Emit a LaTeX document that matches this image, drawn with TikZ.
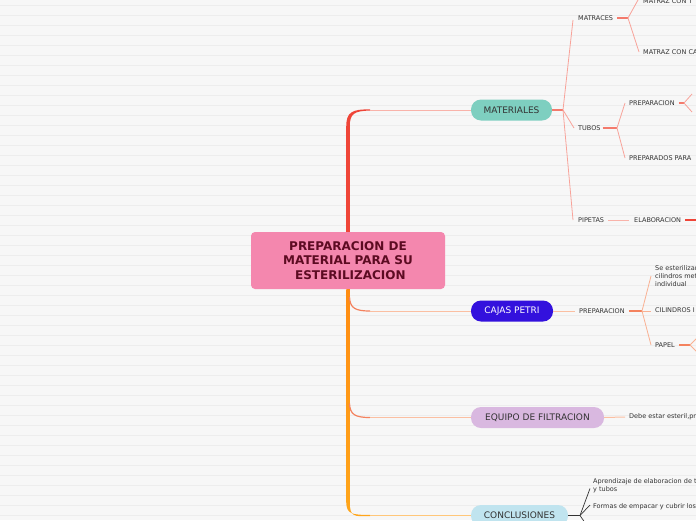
\documentclass[tikz,border=0pt]{standalone}
\usepackage{fontspec}
\setmainfont{DejaVu Sans}
\usetikzlibrary{calc}
\definecolor{bg}{HTML}{F7F7F7}
\definecolor{gridc}{HTML}{EDEDED}
\definecolor{rootfill}{HTML}{F487AE}
\definecolor{roottext}{HTML}{5C0B22}
\definecolor{trunkred}{HTML}{EF4538}
\definecolor{trunkorange}{HTML}{FF8C12}
\definecolor{trunkgold}{HTML}{FFA51A}
\definecolor{matfill}{HTML}{7ECFC0}
\definecolor{cajfill}{HTML}{3311DD}
\definecolor{eqfill}{HTML}{D9B8E0}
\definecolor{confill}{HTML}{C0E4EF}
\definecolor{txt}{HTML}{333333}
\definecolor{fanred}{HTML}{F8A39A}
\definecolor{stubred}{HTML}{F47A6C}
\definecolor{fanor}{HTML}{F9B193}
\definecolor{stubor}{HTML}{F4825E}
\definecolor{lightred}{HTML}{F9B3AA}
\definecolor{lightor}{HTML}{FBBFA2}
\definecolor{lightgold}{HTML}{FFC77A}
\begin{document}
\begin{tikzpicture}[x=1pt,y=-1pt,
  root/.style={fill=rootfill, rounded corners=4pt, minimum width=194pt, minimum height=57pt,
    inner sep=0pt, align=center, text=roottext, font=\bfseries\fontsize{12}{14.5}\selectfont},
  topic/.style={rounded corners=10pt, minimum height=21pt, inner sep=0pt,
    font=\fontsize{9}{10}\selectfont},
  leaf/.style={anchor=west, inner sep=0pt, align=left, text=txt,
    font=\fontsize{6.5}{8}\selectfont},
  fanA/.style={draw=fanred, line width=0.8pt},
  stubA/.style={draw=stubred, line width=1.3pt},
  fanB/.style={draw=fanor, line width=0.8pt},
  stubB/.style={draw=stubor, line width=1.3pt},
  fanC/.style={draw=txt, line width=0.7pt},
  stubC/.style={draw=txt, line width=1.3pt}]
\useasboundingbox (0,0) rectangle (696,520);
\clip (0,0) rectangle (696,520);
\fill[bg] (0,0) rectangle (696,520);
\foreach \k in {0,...,51} \draw[gridc, line width=0.6pt] (0,5+10*\k) -- (696,5+10*\k);

% nodes
\node[root] (root) at (348,260.5) {PREPARACION DE\\MATERIAL PARA SU\\\hspace*{0.4em}ESTERILIZACION};
\node[topic, fill=matfill, minimum width=81pt, text=txt] (mat) at (511.5,110) {MATERIALES};
\node[topic, fill=cajfill, minimum width=82pt, text=white] (caj) at (512,311) {CAJAS PETRI};
\node[topic, fill=eqfill, minimum width=133pt, text=txt] (eq) at (537.5,417.5) {EQUIPO DE FILTRACION};
\node[topic, fill=confill, minimum width=97pt, text=txt] (con) at (519.5,515.5) {CONCLUSIONES};

\node[leaf] (matr) at (578,18) {MATRACES};
\node[leaf] (mtt) at (643,1) {MATRAZ CON T};
\node[leaf] (mtc) at (643,52) {MATRAZ CON CA};
\node[leaf] (tub) at (578,128) {TUBOS};
\node[leaf] (prepa) at (629,103) {PREPARACION};
\node[leaf] (prepados) at (629,158) {PREPARADOS PARA};
\node[leaf] (pip) at (578,220) {PIPETAS};
\node[leaf] (elab) at (634,220) {ELABORACION};
\node[leaf] (prepb) at (579,311) {PREPARACION};
\node[leaf] (seest) at (655,276) {Se esterilizan\\cilindros met\\individual};
\node[leaf] (cil) at (655,310) {CILINDROS I};
\node[leaf] (pap) at (655,345) {PAPEL};
\node[leaf] (debe) at (629,417) {Debe estar esteril,pr};
\node[leaf] (apr) at (593,485.5) {Aprendizaje de elaboracion de t\\y tubos};
\node[leaf] (form) at (593,507) {Formas de empacar y cubrir los};

% trunk coordinates
\coordinate (tr1) at (348,126);
\coordinate (h1) at (370,110);
\coordinate (tr2) at (348,502);
\coordinate (h4) at (370,515.5);
\coordinate (h2) at (370,311);
\coordinate (h3) at (370,417.5);

% red trunk to MATERIALES
\draw[trunkred, line width=3.5pt] (root.north) -- (tr1);
\fill[trunkred] (346.25,126.5) .. controls (346.25,112) and (352,109.2) .. (370,109.4)
  -- (370,110.6) .. controls (354,110.8) and (349.75,114) .. (349.75,126.5) -- cycle;
\draw[lightred, line width=1pt] (h1) -- (mat.west);

% orange trunk
\shade[top color=trunkorange, bottom color=trunkgold] (346.25,289) rectangle (349.75,502.5);
\fill[trunkgold] (346.25,502) .. controls (346.25,514) and (352,515) .. (370,514.9)
  -- (370,516.1) .. controls (354,516.5) and (349.75,517) .. (349.75,502) -- cycle;
\draw[lightgold, line width=1pt] (h4) -- (con.west);
% branches to CAJAS and EQUIPO
\draw[stubor, line width=1.2pt] (349.5,297) .. controls (350,308) and (355,311) .. (h2);
\draw[lightor, line width=1pt] (h2) -- (caj.west);
\draw[stubor, line width=1.2pt] (349.5,403.5) .. controls (350,414.5) and (355,417.5) .. (h3);
\draw[lightor, line width=1pt] (h3) -- (eq.west);

% MATERIALES subtree
\coordinate (jm) at (563,110);
\draw[stubA] (mat.east) -- (jm);
\draw[fanA] (jm) -- (573,20);
\draw[fanA] (jm) -- ([xshift=-4pt]tub.west);
\draw[fanA] (jm) -- ([xshift=-5pt]pip.west);
\coordinate (jmatr) at (628,18);
\draw[stubA] ([xshift=4pt]matr.east) -- (jmatr);
\draw[fanA] (jmatr) -- ([xshift=-5pt,yshift=1pt]mtt.west);
\draw[fanA] (jmatr) -- ([xshift=-4pt]mtc.west);
\coordinate (jtub) at (617,128);
\draw[stubA] ([xshift=2pt]tub.east) -- (jtub);
\draw[fanA] (jtub) -- ([xshift=-4pt]prepa.west);
\draw[fanA] (jtub) -- ([xshift=-4pt]prepados.west);
\coordinate (jprepa) at (684,103);
\draw[stubA] ([xshift=4pt]prepa.east) -- (jprepa);
\coordinate (pa1) at (692,94);
\coordinate (pa2) at (692,112);
\draw[fanA] (jprepa) -- (pa1);
\draw[fanA] (jprepa) -- (pa2);
\draw[lightred, line width=1pt] ([xshift=4pt]pip.east) -- ([xshift=-5pt]elab.west);
\coordinate (elabend) at (696,220);
\draw[trunkred, line width=1.3pt] ([xshift=4pt]elab.east) -- (elabend);

% CAJAS PETRI subtree
\draw[lightor, line width=1pt] (caj.east) -- ([xshift=-4pt]prepb.west);
\coordinate (jprepb) at (642,311);
\draw[stubB] ([xshift=4pt]prepb.east) -- (jprepb);
\draw[fanB] (jprepb) -- ([xshift=-4pt]seest.west);
\draw[fanB] (jprepb) -- ([xshift=-4pt,yshift=-1pt]cil.west);
\draw[fanB] (jprepb) -- ([xshift=-4pt]pap.west);
\coordinate (jpap) at (690,345);
\draw[stubB] ([xshift=4pt]pap.east) -- (jpap);
\coordinate (pp1) at (698,337);
\coordinate (pp2) at (698,353);
\draw[fanB] (jpap) -- (pp1);
\draw[fanB] (jpap) -- (pp2);

% EQUIPO subtree
\draw[lightor, line width=1pt] (eq.east) -- ([xshift=-4pt]debe.west);

% CONCLUSIONES subtree
\coordinate (jcon) at (580,515.5);
\coordinate (cdown) at (590,530);
\draw[stubC] (con.east) -- (jcon);
\draw[fanC] (jcon) -- ([xshift=-3pt,yshift=-3pt]apr.west);
\draw[fanC] (jcon) -- ([xshift=-3pt,yshift=2pt]form.west);
\draw[fanC] (jcon) -- (cdown);
\end{tikzpicture}
\end{document}
